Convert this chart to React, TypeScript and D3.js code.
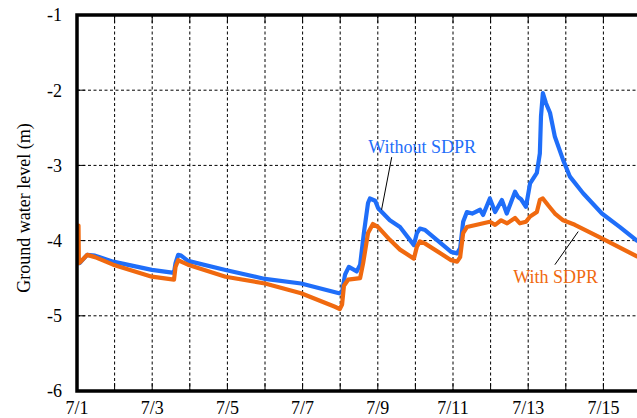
import React from "react";
import * as d3 from "d3";

// Days since 7/1 00:00
const withoutDays = [0.04, 0.07, 0.27, 0.48, 0.96, 1.99, 2.58, 2.62, 2.69, 2.77, 2.95, 3.95, 5.0, 5.96, 6.97, 7.05, 7.13, 7.23, 7.44, 7.53, 7.63, 7.74, 7.79, 7.93, 8.01, 8.32, 8.59, 8.96, 9.04, 9.12, 9.26, 9.95, 10.11, 10.19, 10.27, 10.37, 10.51, 10.72, 10.8, 10.98, 11.12, 11.3, 11.43, 11.65, 11.73, 11.81, 11.94, 12.05, 12.23, 12.31, 12.34, 12.39, 12.47, 12.58, 12.71, 12.93, 13.11, 13.46, 13.96, 14.44, 14.89];
const withoutLevel = [-4.3, -4.3, -4.19, -4.2, -4.28, -4.39, -4.43, -4.3, -4.19, -4.2, -4.27, -4.39, -4.51, -4.57, -4.7, -4.68, -4.45, -4.35, -4.41, -4.32, -3.9, -3.5, -3.44, -3.47, -3.57, -3.73, -3.82, -4.06, -3.9, -3.84, -3.86, -4.15, -4.17, -4.1, -3.75, -3.62, -3.64, -3.59, -3.66, -3.44, -3.62, -3.46, -3.64, -3.35, -3.42, -3.45, -3.55, -3.24, -3.1, -2.84, -2.35, -2.04, -2.17, -2.3, -2.62, -2.93, -3.15, -3.37, -3.64, -3.82, -4.0];

const withDays = [0.04, 0.05, 0.1, 0.27, 0.48, 0.96, 1.99, 2.58, 2.62, 2.69, 2.77, 2.95, 3.95, 5.0, 5.96, 6.86, 6.99, 7.05, 7.1, 7.21, 7.53, 7.61, 7.74, 7.87, 8.01, 8.32, 8.59, 8.96, 9.04, 9.12, 9.26, 9.95, 10.11, 10.19, 10.27, 10.37, 10.72, 10.98, 11.12, 11.28, 11.44, 11.65, 11.78, 11.94, 12.05, 12.23, 12.31, 12.39, 12.53, 12.71, 12.93, 13.24, 13.96, 14.89];
const withLevel = [-3.8, -4.3, -4.28, -4.19, -4.22, -4.32, -4.48, -4.52, -4.35, -4.26, -4.28, -4.32, -4.48, -4.57, -4.7, -4.88, -4.91, -4.85, -4.6, -4.52, -4.5, -4.3, -3.9, -3.78, -3.82, -3.99, -4.12, -4.24, -4.08, -4.01, -4.04, -4.26, -4.28, -4.22, -3.9, -3.82, -3.78, -3.75, -3.79, -3.73, -3.77, -3.7, -3.77, -3.75, -3.68, -3.62, -3.46, -3.44, -3.53, -3.64, -3.73, -3.79, -3.97, -4.21];

const xTickDays = [0, 2, 4, 6, 8, 10, 12, 14];
const xTickLabels = ["7/1", "7/3", "7/5", "7/7", "7/9", "7/11", "7/13", "7/15"];
const yTicks = [-1, -2, -3, -4, -5, -6];

const BLUE = "#1f6ef9";
const ORANGE = "#f0690f";
const FONT = '"Liberation Serif", serif';

export default function App() {
  const W = 637, H = 418;
  const left = 77, top = 15, bottom = 391, right = 641;
  const x = d3.scaleLinear().domain([0, 15]).range([left, right]);
  const y = d3.scaleLinear().domain([-6, -1]).range([bottom, top]);

  const line = d3.line<[number, number]>().x((d) => x(d[0])).y((d) => y(d[1]));
  const blueData = withoutDays.map((d, i) => [d, withoutLevel[i]] as [number, number]);
  const orangeData = withDays.map((d, i) => [d, withLevel[i]] as [number, number]);
  const gridDays = d3.range(1, 15);
  const ts = { fontFamily: FONT, fontSize: "18px" };

  return (
    <svg width={W} height={H} style={{ position: "absolute", left: 0, top: 0, background: "#fff" }}>
      <defs>
        <clipPath id="plot">
          <rect x={left} y={top} width={right - left} height={bottom - top} />
        </clipPath>
      </defs>
      {gridDays.map((d) => (
        <line key={"gx" + d} x1={x(d)} x2={x(d)} y1={top} y2={bottom} stroke="#000" strokeWidth={1} strokeDasharray="3,2.5" />
      ))}
      {yTicks.filter((v) => v !== -1 && v !== -6).map((v) => (
        <line key={"gy" + v} x1={left} x2={right} y1={y(v)} y2={y(v)} stroke="#000" strokeWidth={1} strokeDasharray="3,2.5" />
      ))}
      {gridDays.map((d) => (
        <g key={"tx" + d}>
          <line x1={x(d)} x2={x(d)} y1={bottom} y2={bottom - 8} stroke="#000" strokeWidth={1} />
          <line x1={x(d)} x2={x(d)} y1={top} y2={top + 8} stroke="#000" strokeWidth={1} />
        </g>
      ))}
      {yTicks.map((v) => (
        <line key={"ty" + v} x1={left} x2={left + 8} y1={y(v)} y2={y(v)} stroke="#000" strokeWidth={1} />
      ))}
      <g clipPath="url(#plot)">
        <path d={line(blueData) || ""} fill="none" stroke={BLUE} strokeWidth={4.2} strokeLinejoin="round" strokeLinecap="round" />
        <path d={line(orangeData) || ""} fill="none" stroke={ORANGE} strokeWidth={4.2} strokeLinejoin="round" strokeLinecap="round" />
      </g>
      <rect x={left} y={top} width={right - left} height={bottom - top} fill="none" stroke="#000" strokeWidth={3.5} />
      {yTicks.map((v) => (
        <text key={"ly" + v} x={left - 15} y={y(v)} dy="0.35em" textAnchor="end" style={ts} fill="#000">
          {String(v)}
        </text>
      ))}
      {xTickDays.map((d, i) => (
        <text key={"lx" + d} x={x(d)} y={414} textAnchor="middle" style={ts} fill="#000">
          {xTickLabels[i]}
        </text>
      ))}
      <text transform={`translate(30,${(top + bottom) / 2 + 5}) rotate(-90)`} textAnchor="middle" style={ts} fill="#000">
        Ground water level (m)
      </text>
      <line x1={x(8.37)} y1={y(-2.89)} x2={x(8.1)} y2={y(-3.59)} stroke="#000" strokeWidth={1} />
      <text x={x(9.18)} y={y(-2.83)} textAnchor="middle" style={ts} fill={BLUE}>Without SDPR</text>
      <line x1={x(13.33)} y1={y(-3.88)} x2={x(12.71)} y2={y(-4.32)} stroke="#000" strokeWidth={1} />
      <text x={x(12.73)} y={y(-4.56)} textAnchor="middle" style={ts} fill={ORANGE}>With SDPR</text>
    </svg>
  );
}
